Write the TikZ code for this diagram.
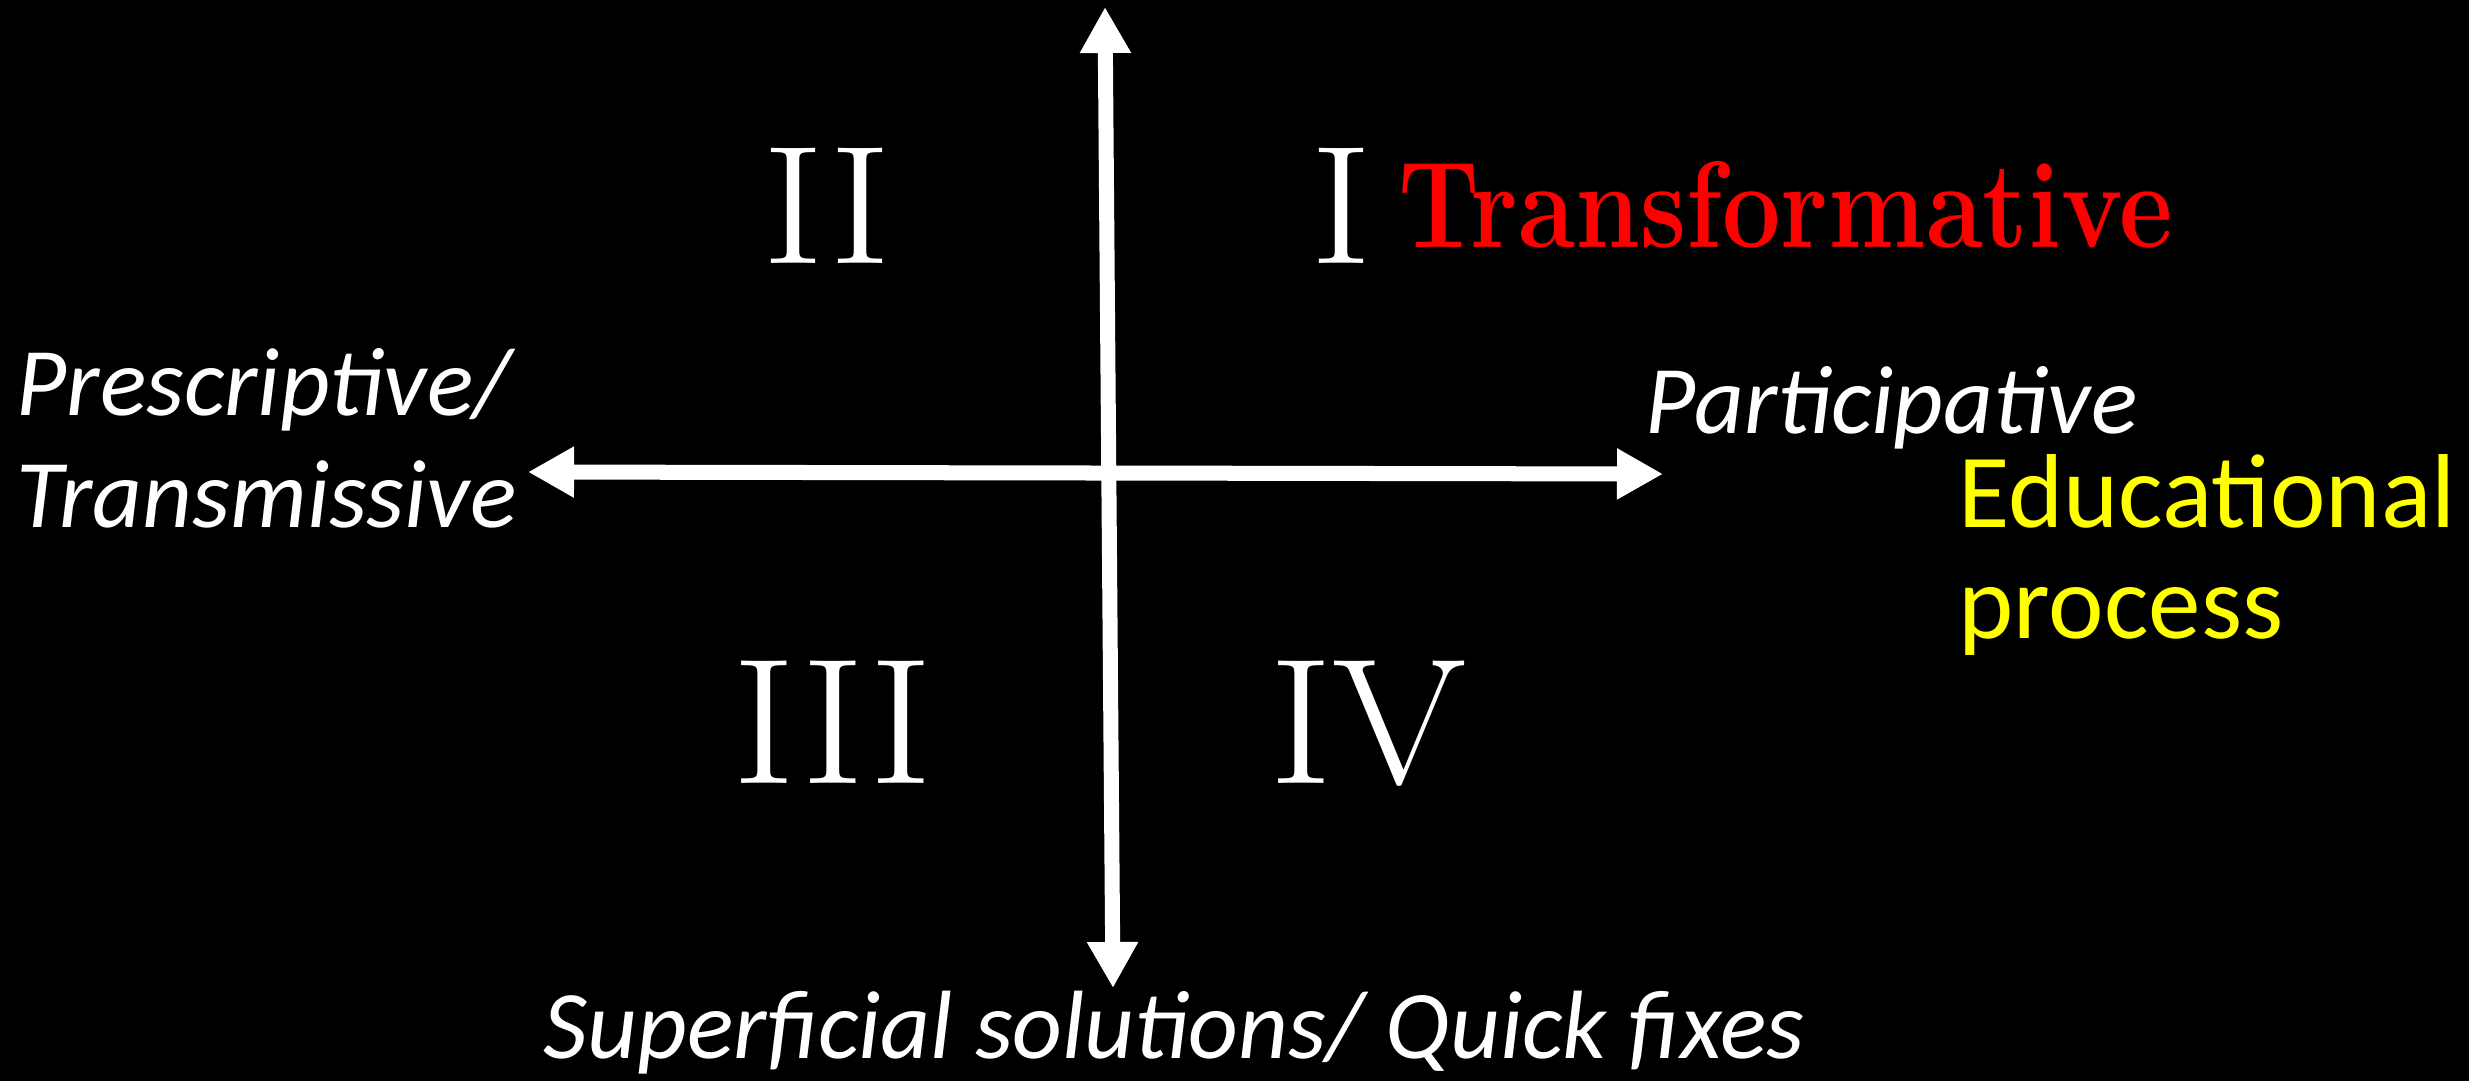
\documentclass[tikz,border=0pt]{standalone}
\usepackage{fontspec}
\usepackage{graphicx}
\usetikzlibrary{arrows.meta}
\newfontfamily\carlito{Carlito}
\begin{document}
\begin{tikzpicture}[x=0.01cm,y=-0.01cm,
  axis/.style={draw=white,line width=0.15cm,
    {Triangle[length=0.46cm,width=0.48cm]}-{Triangle[length=0.46cm,width=0.48cm]}},
  numeral/.style={text=white,inner sep=0pt,anchor=base},
  ilabel/.style={text=white,inner sep=0pt,anchor=base west,align=left,
    font=\carlito\itshape\fontsize{27.6pt}{31.6pt}\selectfont}]
\fill[black] (0,0) rectangle (2469,1081);
\useasboundingbox (0,0) rectangle (2469,1081);
% axes
\coordinate (vtop) at (1105,7);
\coordinate (vbot) at (1113,988);
\coordinate (hleft) at (528,472);
\coordinate (hright) at (1663,474);
\draw[axis] (vbot) -- (vtop);
\draw[axis] (hleft) -- (hright);
% numerals
\node[numeral,font=\fontsize{48pt}{50pt}\selectfont] (q2) at (827,263) {\scalebox{1.12}[1]{II}};
\node[numeral,font=\fontsize{48pt}{50pt}\selectfont] (q1) at (1341,263) {\scalebox{1.12}[1]{I}};
\node[numeral,font=\fontsize{51pt}{54pt}\selectfont] (q3) at (833,783) {\scalebox{1.08}[1]{III}};
\node[numeral,font=\fontsize{51pt}{54pt}\selectfont] (q4) at (1368,783) {\scalebox{1.08}[1]{IV}};
% labels
\node[text=red,inner sep=0pt,anchor=base west,font=\bfseries\fontsize{35pt}{38pt}\selectfont] (trans) at (1398,247) {\scalebox{0.845}[1]{Transformative}};
\node[ilabel] (presc) at (16,527) {Prescriptive/\\Transmissive};
\node[ilabel] (part) at (1645,433) {Participative};
\node[ilabel] (super) at (543,1058) {Superficial solutions/ Quick fixes};
\node[text={rgb,255:red,255;green,255;blue,0},inner sep=0pt,anchor=base west,align=left,
  font=\carlito\fontsize{29.9pt}{31.3pt}\selectfont] (edu) at (1958,638) {Educational\\process};
\end{tikzpicture}
\end{document}
